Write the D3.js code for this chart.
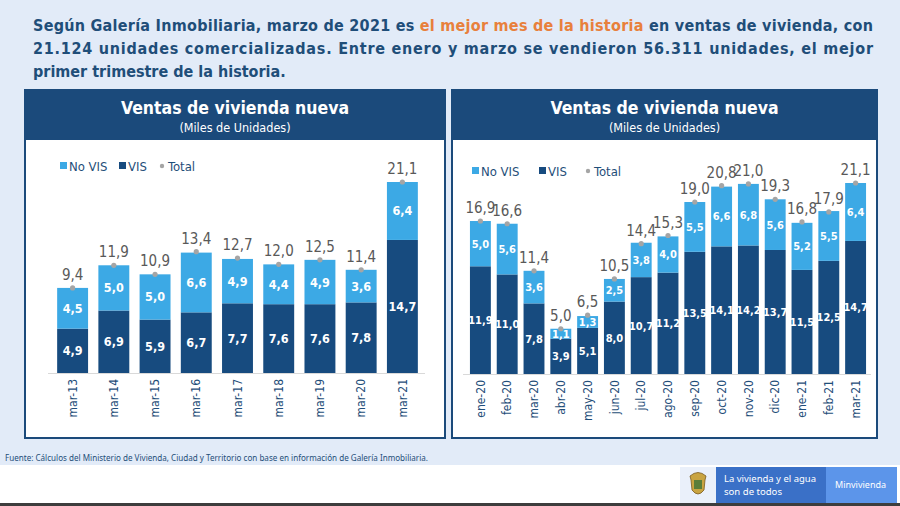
<!DOCTYPE html>
<html><head><meta charset="utf-8">
<script src="https://cdn.jsdelivr.net/npm/d3@7"></script>
<style>
html,body{margin:0;padding:0;background:#fff;}
svg{display:block;font-family:"DejaVu Sans Condensed","Noto Sans",sans-serif;}
</style></head>
<body>
<svg id="c" width="900" height="506"></svg>
<script>
// ---- data ----
const leftCats = ["mar-13","mar-14","mar-15","mar-16","mar-17","mar-18","mar-19","mar-20","mar-21"];
const leftVIS = [4.9,6.9,5.9,6.7,7.7,7.6,7.6,7.8,14.7];
const leftNoVIS = [4.5,5.0,5.0,6.6,4.9,4.4,4.9,3.6,6.4];
const leftTotal = [9.4,11.9,10.9,13.4,12.7,12.0,12.5,11.4,21.1];

const rightCats = ["ene-20","feb-20","mar-20","abr-20","may-20","jun-20","jul-20","ago-20","sep-20","oct-20","nov-20","dic-20","ene-21","feb-21","mar-21"];
const rightVIS = [11.9,11.0,7.8,3.9,5.1,8.0,10.7,11.2,13.5,14.1,14.2,13.7,11.5,12.5,14.7];
const rightNoVIS = [5.0,5.6,3.6,1.1,1.3,2.5,3.8,4.0,5.5,6.6,6.8,5.6,5.2,5.5,6.4];
const rightTotal = [16.9,16.6,11.4,5.0,6.5,10.5,14.4,15.3,19.0,20.8,21.0,19.3,16.8,17.9,21.1];

const legendLabels = ["No VIS","VIS","Total"];
const titleLines = [
  [["Según Galería Inmobiliaria, marzo de 2021 es ", false],["el mejor mes de la historia", true],[" en ventas de vivienda, con", false]],
  [["21.124 unidades comercializadas. Entre enero y marzo se vendieron 56.311 unidades, el mejor", false]],
  [["primer trimestre de la historia.", false]]
];
const panelTitle = "Ventas de vivienda nueva";
const panelSub = "(Miles de Unidades)";
const source = "Fuente: Cálculos del Ministerio de Vivienda, Ciudad y Territorio con base en información de Galería Inmobiliaria.";

// ---- styles ----
const C = {bg:"#e2ebf8", navy:"#1b4a7b", vis:"#174b7f", novis:"#3ca9e5", text:"#1f4e79", orange:"#e8803c", grey:"#595959", dot:"#a5a5a5"};
const fmt = v => d3.format(".1f")(v).replace(".", ",");

const svg = d3.select("#c");
svg.append("rect").attr("x",0).attr("y",0).attr("width",900).attr("height",465).attr("fill",C.bg);
svg.append("rect").attr("x",0).attr("y",503).attr("width",900).attr("height",3).attr("fill","#3d3d3d");

// title
titleLines.forEach((line,i)=>{
  const t = svg.append("text").attr("x",33).attr("y",31+i*23)
    .attr("font-size",16).attr("font-weight","bold").attr("fill",C.text);
  line.forEach(([s,hi])=>t.append("tspan").text(s).attr("fill",hi?C.orange:C.text));
  if(i<2) t.attr("textLength",840).attr("lengthAdjust","spacing");
});

// source
svg.append("text").attr("x",5).attr("y",461).attr("font-size",8).attr("fill",C.text)
  .attr("font-family","'Noto Sans',sans-serif")
  .attr("textLength",423).attr("lengthAdjust","spacingAndGlyphs").text(source);

function panel(o){
  const g = svg.append("g");
  g.append("rect").attr("x",o.x0).attr("y",90).attr("width",o.x1-o.x0).attr("height",348)
    .attr("fill","#fff").attr("stroke",C.navy).attr("stroke-width",2);
  g.append("rect").attr("x",o.x0).attr("y",90).attr("width",o.x1-o.x0).attr("height",50).attr("fill",C.navy);
  const cx = (o.x0+o.x1)/2;
  g.append("text").attr("x",cx).attr("y",114).attr("text-anchor","middle").attr("fill","#fff")
    .attr("font-size",17.5).attr("font-weight","bold").text(panelTitle);
  g.append("text").attr("x",cx).attr("y",132).attr("text-anchor","middle").attr("fill","#fff")
    .attr("font-size",12.5).text(panelSub);

  const x = d3.scaleBand().domain(o.cats).range(o.xr).paddingInner(o.pi).paddingOuter(o.po);
  const y = d3.scaleLinear().domain([0,21.1]).range([o.base,o.top]);

  // baseline
  g.append("line").attr("x1",o.xr[0]-4).attr("x2",o.xr[1]+2).attr("y1",o.base+0.5).attr("y2",o.base+0.5)
    .attr("stroke","#d9d9d9").attr("stroke-width",1);

  const rows = o.cats.map((c,i)=>({c, vis:o.vis[i], nov:o.nov[i], tot:o.tot[i]}));
  g.selectAll(".v").data(rows).join("rect").attr("x",d=>x(d.c)).attr("width",x.bandwidth())
    .attr("y",d=>y(d.vis)).attr("height",d=>y(0)-y(d.vis)).attr("fill",C.vis);
  g.selectAll(".n").data(rows).join("rect").attr("x",d=>x(d.c)).attr("width",x.bandwidth())
    .attr("y",d=>y(d.vis+d.nov)).attr("height",d=>y(d.vis)-y(d.vis+d.nov)).attr("fill",C.novis);
  // segment labels
  g.selectAll(".vl").data(rows).join("text").attr("x",d=>x(d.c)+x.bandwidth()/2)
    .attr("y",d=>(y(0)+y(d.vis))/2).attr("dy","0.36em").attr("text-anchor","middle")
    .attr("fill","#fff").attr("font-weight","bold").attr("font-size",o.fs).text(d=>fmt(d.vis));
  g.selectAll(".nl").data(rows).join("text").attr("x",d=>x(d.c)+x.bandwidth()/2)
    .attr("y",d=>(y(d.vis)+y(d.vis+d.nov))/2).attr("dy","0.36em").attr("text-anchor","middle")
    .attr("fill","#fff").attr("font-weight","bold").attr("font-size",o.fs).text(d=>fmt(d.nov));
  // totals
  g.selectAll(".td").data(rows).join("circle").attr("cx",d=>x(d.c)+x.bandwidth()/2)
    .attr("cy",d=>y(d.tot)).attr("r",2.6).attr("fill",C.dot);
  g.selectAll(".tl").data(rows).join("text").attr("x",d=>x(d.c)+x.bandwidth()/2)
    .attr("y",d=>y(d.tot)-8).attr("text-anchor","middle").attr("fill",C.grey)
    .attr("font-size",15).text(d=>fmt(d.tot));

  // x axis labels
  const ax = g.append("g").attr("transform",`translate(0,${o.base})`)
    .call(d3.axisBottom(x).tickSize(0).tickPadding(0));
  ax.select(".domain").remove();
  ax.selectAll("text").attr("transform","rotate(-90)").attr("text-anchor","end")
    .attr("x",-6).attr("y",0).attr("dy","0.35em").attr("fill",C.text)
    .attr("font-size",12).attr("font-family","'DejaVu Sans Condensed','Noto Sans',sans-serif");

  // legend
  const lg = g.append("g").attr("font-size",13).attr("fill",C.text);
  const L = o.leg;
  lg.append("rect").attr("x",L[0]).attr("y",L[3]-4).attr("width",7).attr("height",7).attr("fill",C.novis);
  lg.append("text").attr("x",L[0]+9).attr("y",L[3]).attr("dy","0.36em").attr("fill",C.text).text(legendLabels[0]);
  lg.append("rect").attr("x",L[1]).attr("y",L[3]-4).attr("width",7).attr("height",7).attr("fill",C.vis);
  lg.append("text").attr("x",L[1]+9).attr("y",L[3]).attr("dy","0.36em").attr("fill",C.text).text(legendLabels[1]);
  lg.append("circle").attr("cx",L[2]+2).attr("cy",L[3]).attr("r",2.2).attr("fill",C.dot);
  lg.append("text").attr("x",L[2]+8).attr("y",L[3]).attr("dy","0.36em").attr("fill",C.text).text(legendLabels[2]);
}

panel({x0:25,x1:445,cats:leftCats,vis:leftVIS,nov:leftNoVIS,tot:leftTotal,
  xr:[52,423],pi:0.25,po:0.125,base:373,top:182,fs:12.5,leg:[60,119,160,166]});
panel({x0:452,x1:877,cats:rightCats,vis:rightVIS,nov:rightNoVIS,tot:rightTotal,
  xr:[467,869],pi:0.22,po:0.11,base:374,top:183,fs:11,leg:[472,539,586,171]});

// logo block
const lg = svg.append("g");
lg.append("rect").attr("x",680).attr("y",467).attr("width",36).attr("height",36).attr("fill","#eaf0fa");
lg.append("path").attr("d","M690,476 Q698,469 706,476 L705,480 L704,490 Q698,498 692,490 L691,480 Z")
  .attr("fill","#c9a441").attr("stroke","#7a5a1e").attr("stroke-width",0.8);
lg.append("rect").attr("x",694).attr("y",480).attr("width",8).attr("height",9).attr("fill","#5a7d3a");
lg.append("rect").attr("x",716).attr("y",467).attr("width",110).attr("height",36).attr("fill","#3a70c7");
lg.append("rect").attr("x",826).attr("y",467).attr("width",71).attr("height",36).attr("fill","#5c95ea");
lg.append("text").attr("x",724).attr("y",482).attr("fill","#fff").attr("font-size",9)
  .attr("font-family","'Noto Sans',sans-serif").attr("textLength",92).attr("lengthAdjust","spacingAndGlyphs").text("La vivienda y el agua");
lg.append("text").attr("x",724).attr("y",495).attr("fill","#fff").attr("font-size",9)
  .attr("font-family","'Noto Sans',sans-serif").attr("textLength",58).attr("lengthAdjust","spacingAndGlyphs").text("son de todos");
lg.append("text").attr("x",835).attr("y",488).attr("fill","#fff").attr("font-size",9)
  .attr("font-family","'Noto Sans',sans-serif").text("Minvivienda");
</script>
</body></html>
